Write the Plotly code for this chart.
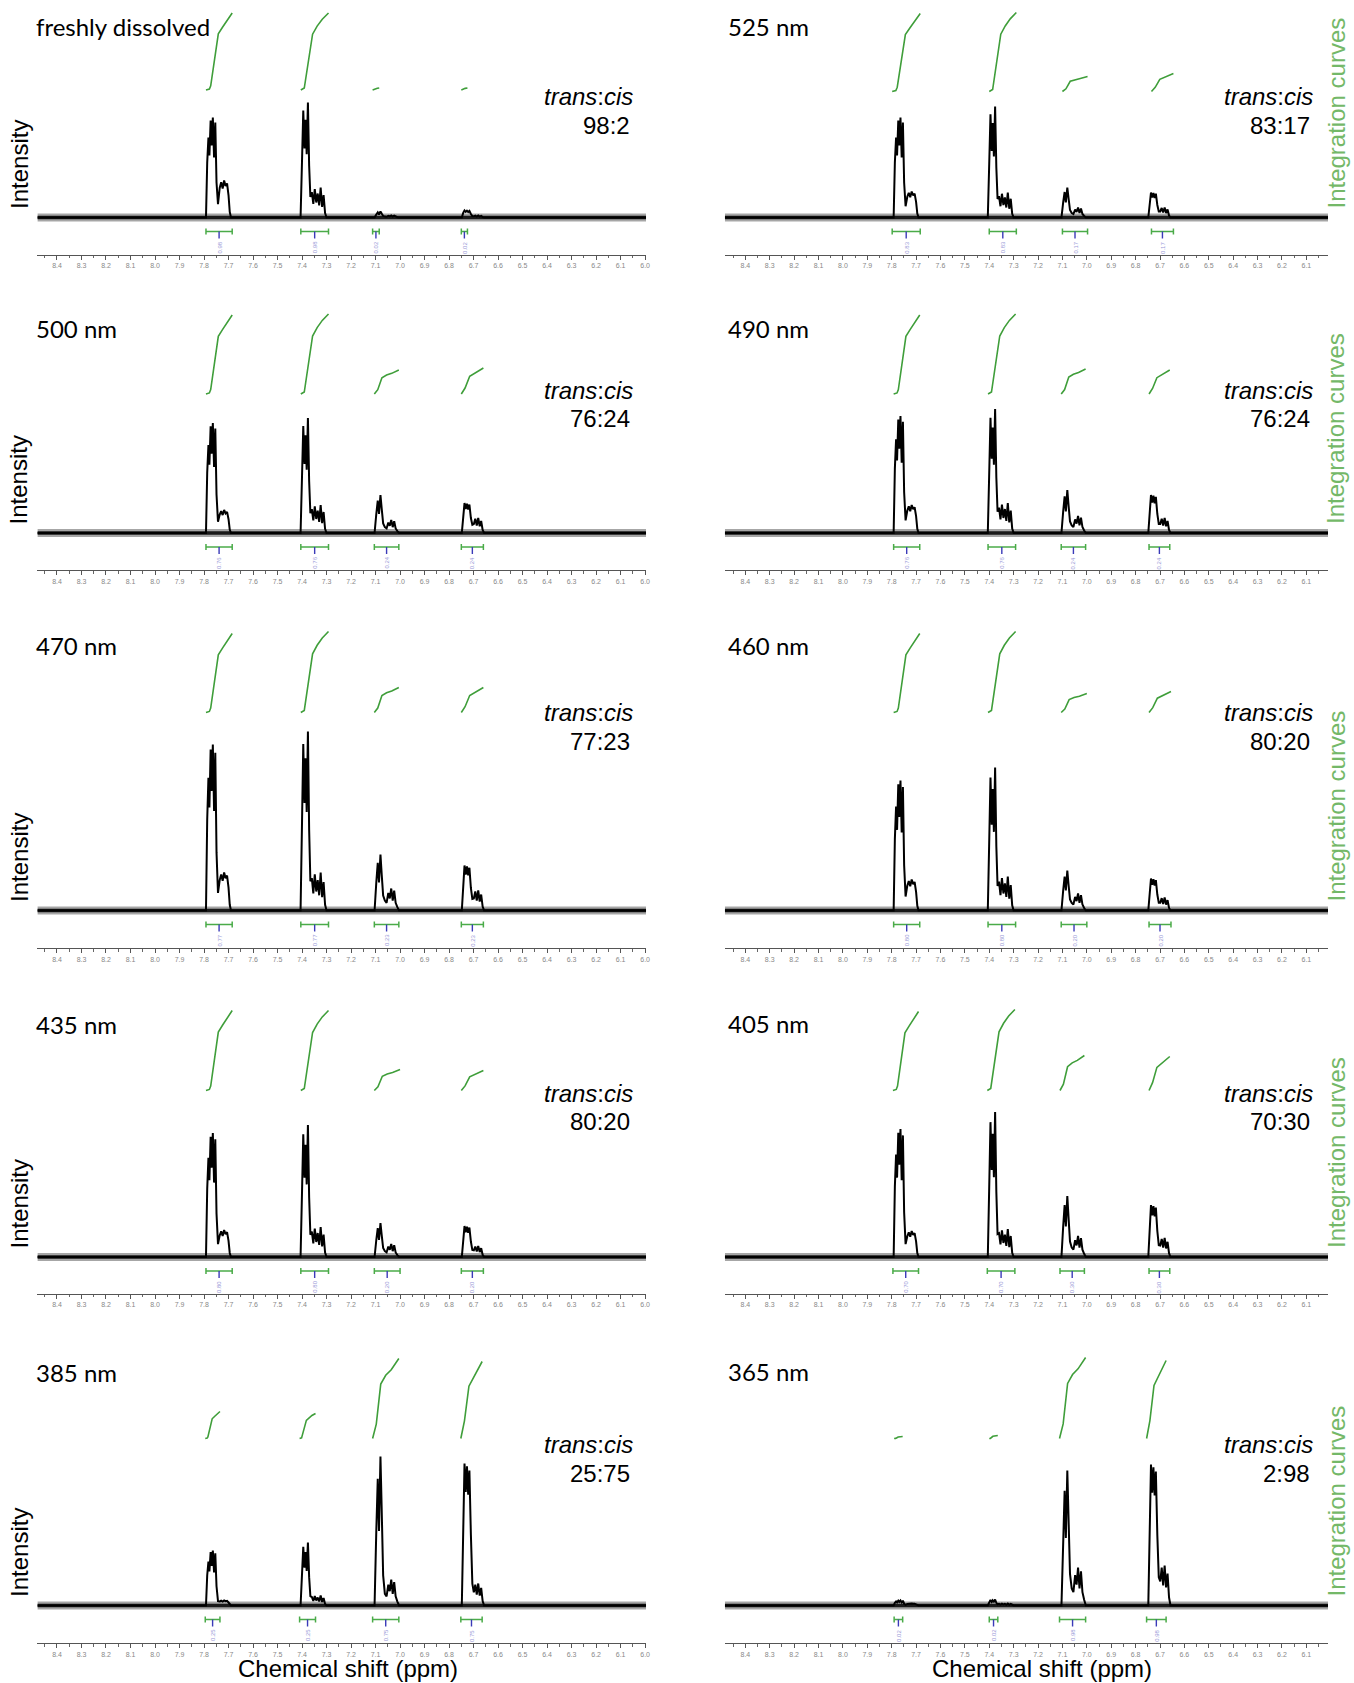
import plotly.graph_objects as go

W, H = 1354, 1683

# ---------------- data ----------------
LABELS = ["freshly dissolved", "525 nm", "500 nm", "490 nm", "470 nm",
          "460 nm", "435 nm", "405 nm", "385 nm", "365 nm"]
RATIOS = ["98:2", "83:17", "76:24", "76:24", "77:23",
          "80:20", "80:20", "70:30", "25:75", "2:98"]

# peak heights (px above baseline): [g1 main, g1 minor, g2 main, g2 minor, g3 main, g3 minor, g4 main, g4 minor]
PEAK_HEIGHTS = [
    [100, 37, 115, 30, 6, 2, 7, 2],
    [100, 26, 111, 25, 30, 10, 25, 10],
    [110, 23, 115, 28, 38, 13, 30, 15],
    [117, 28, 124, 30, 43, 17, 38, 15],
    [166, 38, 179, 38, 56, 22, 45, 20],
    [130, 31, 143, 34, 40, 17, 32, 13],
    [124, 27, 132, 30, 34, 13, 31, 11],
    [128, 26, 145, 28, 61, 21, 52, 19],
    [55, 5, 63, 10, 149, 26, 142, 22],
    [5, 2, 6, 2, 135, 38, 141, 40],
]

# integration curve rise per group (px)
INTEG_TOTALS = [
    [77, 77, 2, 2],
    [78, 79, 15, 18],
    [79, 80, 24, 26],
    [79, 80, 25, 24],
    [79, 81, 25, 25],
    [79, 81, 19, 21],
    [80, 80, 21, 20],
    [79, 81, 35, 34],
    [27, 25, 80, 77],
    [2, 3, 81, 78],
]
# integration curve start level above baseline (px)
INTEG_BASE = [127.5, 126, 139, 139, 198, 198, 166.5, 166.5, 167, 167]

# integration regions (ppm start, ppm end) per group
INTEG_SPANS = [
    [(7.792, 7.685), (7.405, 7.292), (7.112, 7.085), (6.750, 6.725)],
    [(7.798, 7.683), (7.400, 7.289), (7.100, 6.997), (6.735, 6.645)],
    [(7.792, 7.685), (7.405, 7.292), (7.105, 7.005), (6.750, 6.660)],
    [(7.792, 7.685), (7.405, 7.292), (7.105, 7.005), (6.745, 6.660)],
    [(7.792, 7.685), (7.405, 7.292), (7.105, 7.005), (6.750, 6.660)],
    [(7.792, 7.685), (7.405, 7.292), (7.105, 7.000), (6.745, 6.655)],
    [(7.792, 7.685), (7.405, 7.292), (7.105, 7.000), (6.750, 6.660)],
    [(7.795, 7.690), (7.408, 7.295), (7.110, 7.010), (6.745, 6.660)],
    [(7.795, 7.735), (7.410, 7.345), (7.112, 7.005), (6.752, 6.665)],
    [(7.790, 7.755), (7.400, 7.365), (7.112, 7.005), (6.755, 6.675)],
]
INTEG_VALUES = [
    ["0.98", "0.98", "0.02", "0.02"],
    ["0.83", "0.83", "0.17", "0.17"],
    ["0.76", "0.76", "0.24", "0.24"],
    ["0.76", "0.76", "0.24", "0.24"],
    ["0.77", "0.77", "0.23", "0.23"],
    ["0.80", "0.80", "0.20", "0.20"],
    ["0.80", "0.80", "0.20", "0.20"],
    ["0.70", "0.70", "0.30", "0.30"],
    ["0.25", "0.25", "0.75", "0.75"],
    ["0.02", "0.02", "0.98", "0.98"],
]

# peak group shapes (ppm, weight of main height, weight of minor height)
G1_PPM = [7.792, 7.787, 7.782, 7.778, 7.773, 7.769, 7.764, 7.759, 7.754, 7.749,
          7.743, 7.736, 7.730, 7.724, 7.718, 7.712, 7.706, 7.700, 7.695, 7.690]
G1_MAIN = [0, 0.55, 0.80, 0.62, 0.97, 0.72, 1.0, 0.6, 0.95, 0.35,
           0.06, 0, 0, 0, 0, 0, 0, 0, 0, 0]
G1_MINOR = [0, 0, 0, 0, 0, 0, 0, 0, 0, 0,
            0.2, 0.8, 0.95, 0.78, 1.0, 0.85, 0.92, 0.6, 0.15, 0]

G2_PPM = [7.406, 7.400, 7.395, 7.390, 7.386, 7.381, 7.376, 7.371, 7.366, 7.360,
          7.354, 7.348, 7.342, 7.336, 7.330, 7.324, 7.318, 7.312, 7.306, 7.300]
G2_MAIN = [0, 0.5, 0.93, 0.6, 0.85, 0.55, 1.0, 0.45, 0.1, 0,
           0, 0, 0, 0, 0, 0, 0, 0, 0, 0]
G2_MINOR = [0, 0, 0, 0, 0, 0, 0, 0, 0.3, 0.85,
            0.45, 0.95, 0.5, 0.8, 0.4, 1.0, 0.35, 0.75, 0.15, 0]

G3_PPM = [7.104, 7.097, 7.091, 7.086, 7.080, 7.075, 7.069, 7.062, 7.055,
          7.048, 7.042, 7.036, 7.030, 7.024, 7.018, 7.011, 7.004]
G3_MAIN = [0, 0.5, 0.85, 0.5, 1.0, 0.65, 0.15, 0, 0, 0, 0, 0, 0, 0, 0, 0, 0]
G3_MINOR = [0, 0, 0, 0, 0, 0, 0.3, 0.45, 0.35, 0.8, 0.55, 1.0, 0.45, 0.9, 0.35, 0.15, 0]

G4_PPM = [6.748, 6.742, 6.737, 6.732, 6.727, 6.722, 6.717, 6.711, 6.705,
          6.699, 6.693, 6.687, 6.681, 6.675, 6.669, 6.663, 6.657]
G4_MAIN = [0, 0.7, 1.0, 0.8, 0.98, 0.78, 0.95, 0.5, 0.1, 0, 0, 0, 0, 0, 0, 0, 0]
G4_MINOR = [0, 0, 0, 0, 0, 0, 0, 0, 0.35, 0.6, 0.95, 0.5, 1.0, 0.45, 0.8, 0.2, 0]

# integration curve shapes (fraction of region, fraction of rise)
IC1_FX = [0, 0.13, 0.18, 0.47, 0.63, 1]
IC1_FY = [0, 0.013, 0.055, 0.73, 0.815, 1]
IC2_FX = [0, 0.125, 0.425, 0.59, 0.775, 1]
IC2_FY = [0, 0.025, 0.725, 0.83, 0.92, 1]
IC3_FX = [0, 0.14, 0.31, 0.5, 0.71, 1]
IC3_FY = [0, 0.18, 0.68, 0.79, 0.86, 1]
IC4_FX = [0, 0.17, 0.38, 0.63, 1]
IC4_FY = [0, 0.23, 0.68, 0.81, 1]

X_RANGES = [[8.48, 5.996], [8.484, 6.011]]
TICK_LABEL_STEP = 0.1

# ---------------- layout constants (pixels) ----------------
COL_PX = [(37.5, 648.0), (727.0, 1332.0)]
BASELINE_PX = [217.5, 217.5, 533, 533, 910.5, 910.5, 1257, 1257, 1605.5, 1605.5]
AXIS_PX = [254.5, 254.5, 570, 570, 948, 948, 1293.5, 1293.5, 1643, 1643]
ROW_TC_PX = [96.6, 391, 712, 1093, 1444]
ROW_RATIO_PX = [125.6, 418.7, 741, 1121, 1473]

GROUPS = [(G1_PPM, G1_MAIN, G1_MINOR), (G2_PPM, G2_MAIN, G2_MINOR),
          (G3_PPM, G3_MAIN, G3_MINOR), (G4_PPM, G4_MAIN, G4_MINOR)]
ICURVES = [(IC1_FX, IC1_FY), (IC2_FX, IC2_FY), (IC3_FX, IC3_FY), (IC4_FX, IC4_FY)]

GREEN_CURVE = "#3f9e3a"
GREEN_BAR = "#4aab48"
GREEN_TEXT = "#74b868"
BLUE = "#3a3ab8"


def py(px):
    return 1 - px / H


def pxx(px):
    return px / W


fig = go.Figure()
annotations = []
layout_axes = {}

for i in range(10):
    col = i % 2
    row = i // 2
    n = i + 1
    xa = "x" if n == 1 else f"x{n}"
    ya = "y" if n == 1 else f"y{n}"
    xr = X_RANGES[col]
    base = BASELINE_PX[i]
    axis = AXIS_PX[i]
    ibase = INTEG_BASE[i]
    top = base - (ibase + max(INTEG_TOTALS[i]) + 10)

    # noise band of baseline (soft halo + dense core)
    fig.add_trace(go.Scatter(x=[xr[0], xr[1]], y=[0, 0], mode="lines",
                             line=dict(color="rgba(0,0,0,0.35)", width=8),
                             xaxis=xa, yaxis=ya, hoverinfo="skip", showlegend=False))
    fig.add_trace(go.Scatter(x=[xr[0], xr[1]], y=[0, 0], mode="lines",
                             line=dict(color="rgba(0,0,0,0.85)", width=3.5),
                             xaxis=xa, yaxis=ya, hoverinfo="skip", showlegend=False))
    # spectrum
    xs = [xr[0]]
    ys = [0]
    for g, (ppm, mf, sf) in enumerate(GROUPS):
        m = PEAK_HEIGHTS[i][2 * g]
        s = PEAK_HEIGHTS[i][2 * g + 1]
        xs += ppm
        ys += [m * a + s * b for a, b in zip(mf, sf)]
    xs.append(xr[1])
    ys.append(0)
    fig.add_trace(go.Scatter(x=xs, y=ys, mode="lines",
                             line=dict(color="#000000", width=2.0),
                             xaxis=xa, yaxis=ya, hoverinfo="skip", showlegend=False))

    # integration curves
    cx, cy = [], []
    bx, by = [], []
    tx, ty = [], []
    for g, (fx, fy) in enumerate(ICURVES):
        s0, s1 = INTEG_SPANS[i][g]
        tot = INTEG_TOTALS[i][g]
        cx += [s0 + f * (s1 - s0) for f in fx] + [None]
        cy += [ibase + f * tot for f in fy] + [None]
        bx += [s0, s1, None, s0, s0, None, s1, s1, None]
        by += [-14, -14, None, -11, -17, None, -11, -17, None]
        c = (s0 + s1) / 2
        tx += [c, c, None]
        ty += [-14, -21, None]
        annotations.append(dict(x=c, y=-30, xref=xa, yref=ya, text=INTEG_VALUES[i][g],
                                textangle=-90, showarrow=False,
                                font=dict(size=6, color="#9a9ad8", family="Liberation Sans")))
    fig.add_trace(go.Scatter(x=cx, y=cy, mode="lines",
                             line=dict(color=GREEN_CURVE, width=1.6),
                             xaxis=xa, yaxis=ya, hoverinfo="skip", showlegend=False))
    fig.add_trace(go.Scatter(x=bx, y=by, mode="lines",
                             line=dict(color=GREEN_BAR, width=1.5),
                             xaxis=xa, yaxis=ya, hoverinfo="skip", showlegend=False))
    fig.add_trace(go.Scatter(x=tx, y=ty, mode="lines",
                             line=dict(color=BLUE, width=1.4),
                             xaxis=xa, yaxis=ya, hoverinfo="skip", showlegend=False))

    layout_axes["xaxis" if n == 1 else f"xaxis{n}"] = dict(
        domain=[pxx(COL_PX[col][0]), pxx(COL_PX[col][1])],
        range=xr, anchor=ya, showline=True, linecolor="#555", linewidth=1.2,
        ticks="outside", ticklen=4, tickwidth=1, tickcolor="#555",
        tick0=6.0, dtick=TICK_LABEL_STEP, tickformat=".1f",
        tickfont=dict(size=7, color="#888", family="Liberation Sans Narrow, Liberation Sans"),
        showgrid=False, zeroline=False, fixedrange=True,
        minor=dict(dtick=0.05, tick0=6.05, ticks="outside", ticklen=2.5,
                   tickcolor="#666", showgrid=False),
    )
    layout_axes["yaxis" if n == 1 else f"yaxis{n}"] = dict(
        domain=[py(axis), py(top)], range=[-(axis - base), base - top],
        anchor=xa, visible=False, fixedrange=True,
    )

    # texts
    label_x = 34.4 if col == 0 else 728
    integ_top_px = base - ibase - max(INTEG_TOTALS[i])
    annotations.append(dict(x=pxx(label_x), y=py(integ_top_px + 14), xref="paper", yref="paper",
                            text=LABELS[i], showarrow=False, xanchor="left", yanchor="middle",
                            font=dict(size=24, color="#000", family="Lato")))
    tc_right = 637 if col == 0 else 1318.5
    annotations.append(dict(x=pxx(tc_right), y=py(ROW_TC_PX[row]), xref="paper", yref="paper",
                            text="<i>trans</i>:<i>cis</i>", showarrow=False,
                            xanchor="right", yanchor="middle",
                            font=dict(size=24, color="#000", family="Liberation Sans")))
    annotations.append(dict(x=pxx(tc_right - 3), y=py(ROW_RATIO_PX[row]), xref="paper", yref="paper",
                            text=RATIOS[i], showarrow=False, xanchor="right", yanchor="middle",
                            font=dict(size=24, color="#000", family="Liberation Sans")))
    if col == 0:
        annotations.append(dict(x=pxx(19.5), y=py(base - 53), xref="paper", yref="paper",
                                text="Intensity", textangle=-90, showarrow=False,
                                xanchor="center", yanchor="middle",
                                font=dict(size=24, color="#000", family="Liberation Sans")))
    else:
        annotations.append(dict(x=pxx(1340), y=py(base - 104), xref="paper", yref="paper",
                                text="Integration curves", textangle=-90, showarrow=False,
                                xanchor="center", yanchor="middle",
                                font=dict(size=24, color=GREEN_TEXT, family="Liberation Sans")))

for cxp in (349, 1045):
    annotations.append(dict(x=pxx(cxp), y=py(1668.5), xref="paper", yref="paper",
                            text="Chemical shift (ppm)", showarrow=False,
                            xanchor="center", yanchor="middle",
                            font=dict(size=24, color="#000", family="Liberation Sans")))

fig.update_layout(
    width=W, height=H, margin=dict(l=0, r=0, t=0, b=0),
    paper_bgcolor="white", plot_bgcolor="white",
    showlegend=False, annotations=annotations, **layout_axes,
)

fig.write_html("out.html", config={"displayModeBar": False})
